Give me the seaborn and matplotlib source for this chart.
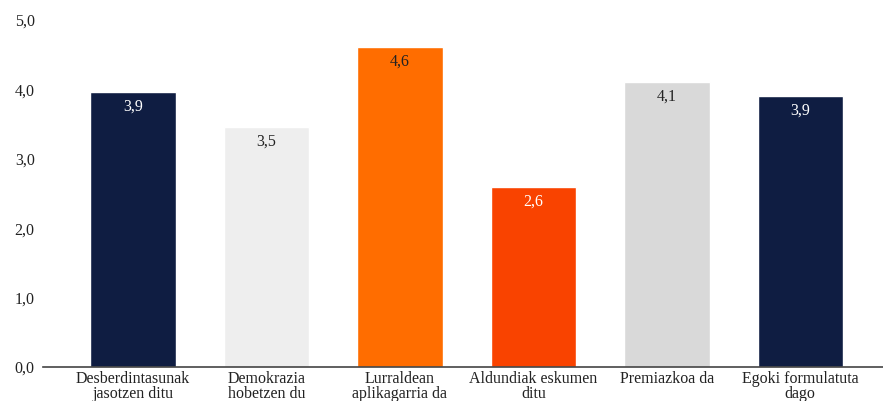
import numpy as np
import seaborn as sns
import matplotlib.pyplot as plt
import pandas as pd

categories = ["Desberdintasunak\njasotzen ditu", "Demokrazia\nhobetzen du",
              "Lurraldean\naplikagarria da", "Aldundiak eskumen\nditu",
              "Premiazkoa da", "Egoki formulatuta\ndago"]
values = [3.96, 3.46, 4.61, 2.59, 4.10, 3.91]
value_labels = ["3,9", "3,5", "4,6", "2,6", "4,1", "3,9"]
colors = ["#0f1d42", "#eeeeee", "#ff6d00", "#f94300", "#d9d9d9", "#0f1d42"]
label_colors = ["white", "#222222", "#222222", "white", "#222222", "white"]
yticks = [0, 1, 2, 3, 4, 5]

sns.set_style("white")
plt.rcParams['font.family'] = ['Liberation Serif', 'DejaVu Serif']

data = pd.DataFrame({"cat": categories, "val": values})

fig = plt.figure(figsize=(8.83, 4.01), dpi=100)
ax = fig.add_axes([43 / 883, 1 - 367 / 401, 1 - 43 / 883, (367 - 20) / 401])
sns.barplot(data=data, x="cat", y="val", hue="cat", palette=colors,
            width=0.64, saturation=1, legend=False, ax=ax)

for i, p in enumerate(ax.patches):
    h = p.get_height()
    ax.annotate(value_labels[i], (p.get_x() + p.get_width() / 2, h),
                xytext=(0, -10.5), textcoords="offset points", ha="center", va="center",
                fontsize=11.5, color=label_colors[i])

ax.set_xlim(-0.675, 5.62)
ax.set_ylim(0, 5)
ax.set_yticks(yticks)
ax.set_yticklabels([f"{t:.1f}".replace(".", ",") for t in yticks], fontsize=11.5, color="#222222")
ax.tick_params(axis="x", labelsize=11.5, colors="#222222", length=0, pad=3)
ax.tick_params(axis="y", length=0, pad=6)
for lbl in ax.get_xticklabels():
    lbl.set_linespacing(0.88)
ax.set_xlabel("")
ax.set_ylabel("")
for s in ["top", "right", "left"]:
    ax.spines[s].set_visible(False)
ax.spines["bottom"].set_color("#444444")
ax.spines["bottom"].set_linewidth(1.2)

fig.savefig("out.png", dpi=100)
